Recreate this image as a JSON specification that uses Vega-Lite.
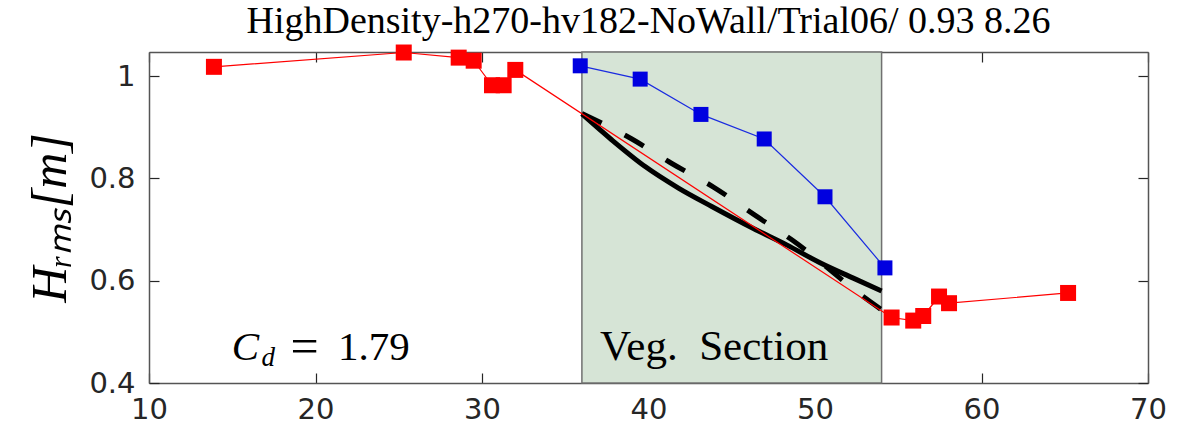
{
  "$schema": "https://vega.github.io/schema/vega-lite/v6.json",
  "width": 999,
  "height": 331,
  "autosize": {"type": "none"},
  "padding": {"left": 149, "top": 52, "right": 41, "bottom": 48},
  "background": "white",
  "config": {
    "view": {"stroke": null},
    "axis": {
      "grid": false,
      "labelFont": "DejaVu Sans",
      "labelFontSize": 29,
      "labelColor": "#262626",
      "tickColor": "#262626",
      "domainColor": "#555555",
      "domainWidth": 1.5,
      "tickSize": -10,
      "tickWidth": 1.2,
      "zindex": 1
    }
  },
  "title": {
    "text": "HighDensity-h270-hv182-NoWall/Trial06/ 0.93 8.26",
    "font": "Liberation Serif",
    "fontSize": 38,
    "fontWeight": "normal",
    "color": "#000000",
    "anchor": "middle",
    "baseline": "alphabetic",
    "offset": -26
  },
  "datasets": {
    "veg": [{"x": 36, "x2": 54, "y": 0.4, "y2": 1.047}],
    "red": [
      {"x": 13.9, "y": 1.018}, {"x": 25.3, "y": 1.046}, {"x": 28.6, "y": 1.036},
      {"x": 29.5, "y": 1.03}, {"x": 30.6, "y": 0.982}, {"x": 31.3, "y": 0.982},
      {"x": 32.0, "y": 1.012}, {"x": 54.6, "y": 0.528}, {"x": 55.9, "y": 0.522},
      {"x": 56.5, "y": 0.531}, {"x": 57.45, "y": 0.569}, {"x": 58.05, "y": 0.556},
      {"x": 65.2, "y": 0.576}
    ],
    "blue": [
      {"x": 35.9, "y": 1.02}, {"x": 39.5, "y": 0.994}, {"x": 43.15, "y": 0.925},
      {"x": 46.95, "y": 0.877}, {"x": 50.6, "y": 0.764}, {"x": 54.2, "y": 0.625}
    ],
    "solid": [
      {"x": 36.0, "y": 0.926}, {"x": 37.8, "y": 0.875}, {"x": 39.8, "y": 0.823},
      {"x": 41.8, "y": 0.781}, {"x": 43.8, "y": 0.745}, {"x": 46.3, "y": 0.702},
      {"x": 48.3, "y": 0.67}, {"x": 50.3, "y": 0.635}, {"x": 52.3, "y": 0.605},
      {"x": 54.0, "y": 0.58}
    ],
    "dashed": [
      {"x": 36.0, "y": 0.927}, {"x": 39.0, "y": 0.877}, {"x": 41.4, "y": 0.829},
      {"x": 43.95, "y": 0.782}, {"x": 46.3, "y": 0.73}, {"x": 48.65, "y": 0.679},
      {"x": 53.1, "y": 0.564}, {"x": 54.0, "y": 0.543}
    ],
    "lblC": [{"x": 14.97, "y": 0.445, "t": "C"}],
    "lblD": [{"x": 16.75, "y": 0.433, "t": "d"}],
    "lblEq": [{"x": 18.5, "y": 0.445, "t": "="}],
    "lblNum": [{"x": 21.35, "y": 0.445, "t": "1.79"}],
    "lblVeg": [{"x": 37.09, "y": 0.445, "t": "Veg.\u00a0\u00a0Section"}]
  },
  "encoding": {
    "x": {"field": "x", "type": "quantitative", "scale": {"domain": [10, 70], "nice": false, "zero": false}, "axis": null},
    "y": {"field": "y", "type": "quantitative", "scale": {"domain": [0.4, 1.047], "nice": false, "zero": false}, "axis": null}
  },
  "layer": [
    {
      "data": {"name": "veg"},
      "mark": {"type": "rect", "fill": "#d6e4d6", "stroke": "#707070", "strokeWidth": 1.5},
      "encoding": {
        "x": {"field": "x", "type": "quantitative", "scale": {"domain": [10, 70], "nice": false, "zero": false},
          "axis": {"orient": "bottom", "values": [10, 20, 30, 40, 50, 60, 70], "labelPadding": 22, "title": null, "labelFlush": false}},
        "x2": {"field": "x2"},
        "y": {"field": "y", "type": "quantitative", "scale": {"domain": [0.4, 1.047], "nice": false, "zero": false},
          "axis": {"orient": "left", "values": [0.4, 0.6, 0.8, 1], "format": "~g", "labelPadding": 24, "labelFlush": false,
            "title": "Hᵣₘₛ[m]", "titleFont": "Liberation Serif", "titleFontStyle": "italic", "titleFontWeight": "normal",
            "titleFontSize": 50, "titleColor": "#000000", "titlePadding": 13}},
        "y2": {"field": "y2"}
      }
    },
    {
      "data": {"name": "solid"},
      "mark": {"type": "line", "color": "#000000", "strokeWidth": 5, "interpolate": "monotone"}
    },
    {
      "data": {"name": "dashed"},
      "mark": {"type": "line", "color": "#000000", "strokeWidth": 5, "strokeDash": [22, 26], "interpolate": "monotone"}
    },
    {
      "data": {"name": "red"},
      "mark": {"type": "line", "color": "#ff0000", "strokeWidth": 1.2}
    },
    {
      "data": {"name": "red"},
      "mark": {"type": "point", "shape": "square", "filled": true, "color": "#ff0000", "size": 256, "opacity": 1}
    },
    {
      "data": {"name": "blue"},
      "mark": {"type": "line", "color": "#1a2be0", "strokeWidth": 1.2},
      "encoding": {
        "x": {"field": "x", "type": "quantitative", "scale": {"domain": [10, 70], "nice": false, "zero": false},
          "axis": {"orient": "top", "values": [10, 20, 30, 40, 50, 60, 70], "labels": false, "title": null}},
        "y": {"field": "y", "type": "quantitative", "scale": {"domain": [0.4, 1.047], "nice": false, "zero": false},
          "axis": {"orient": "right", "values": [0.4, 0.6, 0.8, 1], "labels": false, "title": null}}
      }
    },
    {
      "data": {"name": "blue"},
      "mark": {"type": "point", "shape": "square", "filled": true, "color": "#0000e0", "size": 225, "opacity": 1}
    },
    {
      "data": {"name": "lblC"},
      "mark": {"type": "text", "font": "Liberation Serif", "fontStyle": "italic", "fontSize": 41, "align": "left", "baseline": "alphabetic", "color": "#000000"},
      "encoding": {"text": {"field": "t"}}
    },
    {
      "data": {"name": "lblD"},
      "mark": {"type": "text", "font": "Liberation Serif", "fontStyle": "italic", "fontSize": 27, "align": "left", "baseline": "alphabetic", "color": "#000000"},
      "encoding": {"text": {"field": "t"}}
    },
    {
      "data": {"name": "lblEq"},
      "mark": {"type": "text", "font": "Liberation Serif", "fontSize": 50, "align": "left", "baseline": "alphabetic", "color": "#000000", "dy": 3},
      "encoding": {"text": {"field": "t"}}
    },
    {
      "data": {"name": "lblNum"},
      "mark": {"type": "text", "font": "Liberation Serif", "fontSize": 41, "align": "left", "baseline": "alphabetic", "color": "#000000"},
      "encoding": {"text": {"field": "t"}}
    },
    {
      "data": {"name": "lblVeg"},
      "mark": {"type": "text", "font": "Liberation Serif", "fontSize": 43, "align": "left", "baseline": "alphabetic", "color": "#000000"},
      "encoding": {"text": {"field": "t"}}
    }
  ],
  "resolve": {"axis": {"x": "independent", "y": "independent"}}
}
